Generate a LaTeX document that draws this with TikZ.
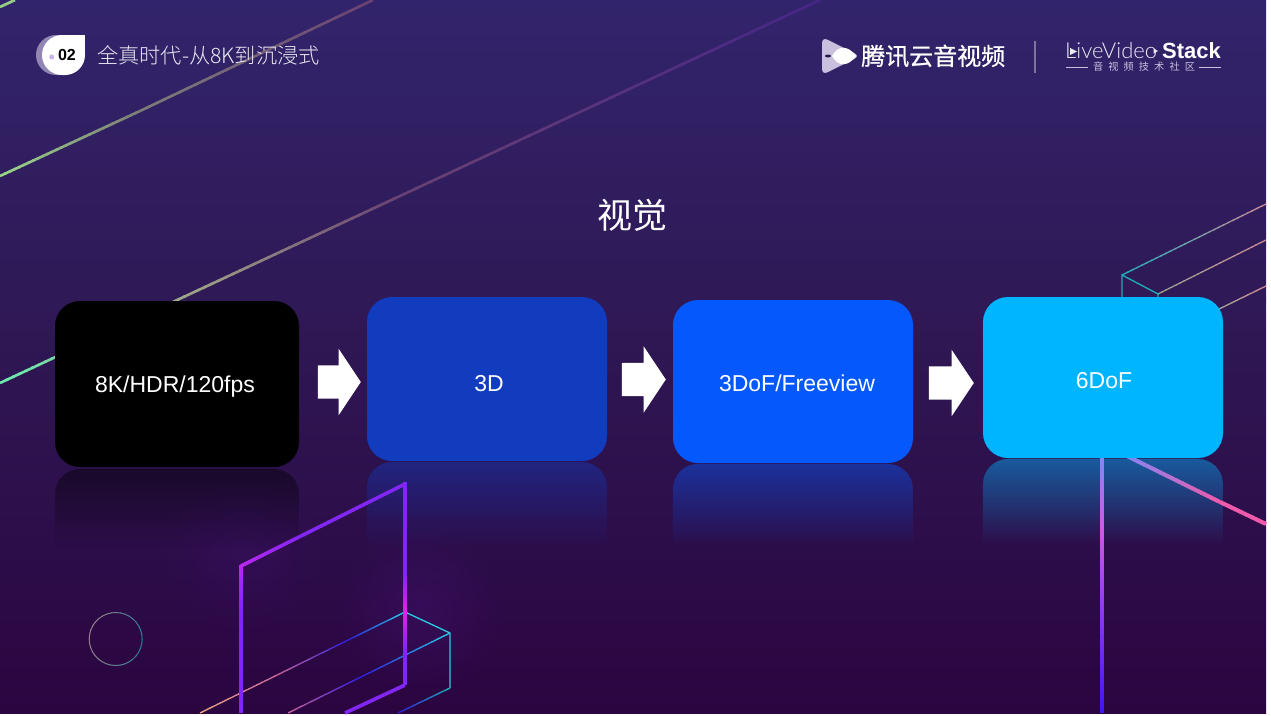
\documentclass[tikz,border=0pt]{standalone}
\usepackage{fontspec}
\setmainfont{Liberation Sans}
\newfontfamily\cjkfont{Noto Sans CJK SC}
\newfontfamily\cjklight{Noto Sans CJK SC Light}
\newfontfamily\cjkheavy[FakeBold=0.8]{Noto Sans CJK SC}
\newfontfamily\latinlight{Lato Light}
\usepackage{tikz}
\usetikzlibrary{calc}
\usetikzlibrary{positioning}
\usetikzlibrary{shapes.arrows}
\usetikzlibrary{fadings}

\definecolor{bgTop}{RGB}{50,36,108}
\definecolor{bgMid}{RGB}{47,25,86}
\definecolor{bgLow}{RGB}{43,5,64}
\definecolor{boxDark}{RGB}{18,60,190}
\definecolor{boxBlue}{RGB}{5,88,251}
\definecolor{boxSky}{RGB}{0,181,255}
\definecolor{lineGreen}{RGB}{155,215,135}
\definecolor{lineMint}{RGB}{105,235,175}
\definecolor{lineGrey}{RGB}{160,165,135}
\definecolor{lineFade}{RGB}{125,125,122}
\definecolor{lineDim}{RGB}{105,65,115}
\definecolor{lineDeep}{RGB}{70,38,135}
\definecolor{cubeTeal}{RGB}{30,175,185}
\definecolor{cubePink}{RGB}{205,135,150}
\definecolor{cubeOlive}{RGB}{150,165,145}
\definecolor{cubeCyan}{RGB}{40,205,225}
\definecolor{cubeBlue}{RGB}{45,30,225}
\definecolor{cubeRose}{RGB}{200,100,155}
\definecolor{cubePeach}{RGB}{235,165,130}
\definecolor{ringPink}{RGB}{165,125,135}
\definecolor{ringTeal}{RGB}{50,125,150}
\definecolor{paneViolet}{RGB}{130,38,245}
\definecolor{paneCorner}{RGB}{185,40,240}
\definecolor{paneMagenta}{RGB}{225,35,225}
\definecolor{rodLight}{RGB}{130,135,245}
\definecolor{rodPink}{RGB}{205,90,230}
\definecolor{rodBlue}{RGB}{65,20,245}
\definecolor{rayPink}{RGB}{240,90,170}
\definecolor{badgeBack}{RGB}{145,135,178}
\definecolor{badgeDot}{RGB}{200,180,232}
\definecolor{logoGrey}{RGB}{200,192,222}
\definecolor{softWhite}{RGB}{235,232,242}
\definecolor{ruleGrey}{RGB}{125,115,155}

\tikzfading[name=reflfade, top color=transparent!55, bottom color=transparent!100]
\tikzfading[name=glowfade, inner color=transparent!45, outer color=transparent!100]

\newcommand{\gradseg}[5]{%
	\foreach \k in {1,...,30}{
		\pgfmathsetmacro\ta{(\k-1)/30}
		\pgfmathsetmacro\tb{min(1,\k/30+0.01)}
		\pgfmathtruncatemacro\pct{100-100*(\k-0.5)/30}
		\draw[line width=#5, color=#3!\pct!#4] ($(#1)!\ta!(#2)$) -- ($(#1)!\tb!(#2)$);
	}
}
\newcommand{\refl}[5]{%
	\fill[#5, path fading=reflfade] (#1,#4) [rounded corners=25] -- (#1,#3) -- (#2,#3) [sharp corners] -- (#2,#4) -- cycle;
}

\tikzset{
	flowbox/.style={rounded corners=25, minimum width=#1, inner sep=0},
	flowtext/.style={text=white, font=\fontsize{23}{27}\selectfont, inner sep=0, anchor=base},
	blockarrow/.style={single arrow, fill=white, inner xsep=0, inner ysep=16.5, minimum height=#1, single arrow head extend=16.5, single arrow head indent=0, single arrow tip angle=112.6, anchor=tip},
}

\begin{document}
\begin{tikzpicture}[x=1pt, y=-1pt]
	\useasboundingbox (0,0) rectangle (1271,715);
	\shade[top color=bgTop, bottom color=bgMid] (0,0) rectangle (1266,300);
	\shade[top color=bgMid, bottom color=bgLow] (0,300) rectangle (1266,713);

	\fill[color=paneViolet, path fading=glowfade, opacity=.2] (420,610) circle[radius=85];
	\fill[color=paneViolet, path fading=glowfade, opacity=.12] (243,555) circle[radius=85];

	\refl{55}{299}{469}{548}{black}
	\refl{367}{607}{462}{548}{boxDark}
	\refl{673}{913}{464}{548}{boxBlue}
	\refl{983}{1223}{459}{545}{boxSky}

	\coordinate (lnA) at (0,176);
	\coordinate (lnB) at (140,111);
	\coordinate (lnC) at (373,0);
	\gradseg{lnA}{lnB}{lineGreen}{lineFade}{2.6}
	\gradseg{lnB}{lnC}{lineFade}{lineDim}{2.6}
	\coordinate (lnD) at (0,7);
	\coordinate (lnE) at (15,0);
	\gradseg{lnD}{lnE}{lineGreen}{lineGreen}{2.6}

	\coordinate (rayA) at (0,383);
	\coordinate (rayB) at (190,294);
	\coordinate (rayC) at (400,196);
	\coordinate (rayD) at (820,0);
	\gradseg{rayA}{rayB}{lineMint}{lineGrey}{2.6}
	\gradseg{rayB}{rayC}{lineGrey}{lineDim}{2.6}
	\gradseg{rayC}{rayD}{lineDim}{lineDeep}{2.6}

	\coordinate (cubeA) at (1122,275);
	\coordinate (cubeB) at (1158,294);
	\coordinate (cubeC) at (1266,204);
	\coordinate (cubeD) at (1266,240);
	\coordinate (cubeE) at (1215,311);
	\coordinate (cubeF) at (1266,286);
	\coordinate (cubeG) at (1122,300);
	\coordinate (cubeH) at (1158,300);
	\gradseg{cubeA}{cubeC}{cubeTeal}{cubePink}{1.3}
	\gradseg{cubeB}{cubeD}{cubeOlive}{cubePink}{1.3}
	\gradseg{cubeE}{cubeF}{cubeOlive}{cubePink}{1.3}
	\draw[cubeTeal, line width=1.3] (cubeG) -- (cubeA) -- (cubeB) -- (cubeH);

	\coordinate (rodA) at (1102,455);
	\coordinate (rodB) at (1102,530);
	\coordinate (rodC) at (1102,713);
	\gradseg{rodA}{rodB}{rodLight}{rodPink}{4.5}
	\gradseg{rodB}{rodC}{rodPink}{rodBlue}{4.5}
	\coordinate (skewA) at (1125,455);
	\coordinate (skewB) at (1220,502);
	\coordinate (skewC) at (1266,524);
	\gradseg{skewA}{skewB}{rodLight}{rayPink}{4}
	\gradseg{skewB}{skewC}{rayPink}{rayPink}{4}

	\coordinate (lowA) at (405,612);
	\coordinate (lowB) at (450,633);
	\coordinate (lowC) at (450,688);
	\coordinate (lowD) at (398,713);
	\coordinate (lowE) at (200,713);
	\coordinate (lowF) at (288,713);
	\coordinate (lowG) at ($(lowA)!.28!(lowE)$);
	\coordinate (lowH) at ($(lowA)!.62!(lowE)$);
	\coordinate (lowI) at ($(lowB)!.55!(lowF)$);
	\gradseg{lowA}{lowG}{cubeCyan}{cubeBlue}{1.3}
	\gradseg{lowG}{lowH}{cubeBlue}{cubeRose}{1.3}
	\gradseg{lowH}{lowE}{cubeRose}{cubePeach}{1.3}
	\gradseg{lowB}{lowI}{cubeCyan}{cubeBlue}{1.3}
	\gradseg{lowI}{lowF}{cubeBlue}{cubeRose}{1.3}
	\gradseg{lowC}{lowD}{cubeTeal}{cubeBlue}{1.3}
	\draw[cubeCyan, line width=1.3] (lowA) -- (lowB) -- (lowC);

	\coordinate (paneA) at (241,713);
	\coordinate (paneB) at (241,610);
	\coordinate (paneC) at (241,566);
	\coordinate (paneD) at (300,536.5);
	\coordinate (paneE) at (405,484);
	\coordinate (paneF) at (405,575);
	\coordinate (paneG) at (405,612);
	\coordinate (paneH) at (405,650);
	\coordinate (paneI) at (405,685);
	\coordinate (paneJ) at (345,713);
	\gradseg{paneA}{paneB}{paneViolet}{paneViolet}{3.5}
	\gradseg{paneB}{paneC}{paneViolet}{paneCorner}{3.5}
	\gradseg{paneC}{paneD}{paneCorner}{paneViolet}{3.5}
	\gradseg{paneD}{paneE}{paneViolet}{paneViolet}{3.5}
	\gradseg{paneE}{paneF}{paneViolet}{paneViolet}{3.5}
	\gradseg{paneF}{paneG}{paneViolet}{paneMagenta}{3.5}
	\gradseg{paneG}{paneH}{paneMagenta}{paneViolet}{3.5}
	\gradseg{paneH}{paneI}{paneViolet}{paneViolet}{3.5}
	\gradseg{paneI}{paneJ}{paneViolet}{paneViolet}{3.5}
	\fill[paneCorner] (239.25,564.5) rectangle (242.75,568);
	\fill[paneViolet] (403.25,482.4) rectangle (406.75,486);

	\foreach \a in {0,10,...,350}{
		\pgfmathtruncatemacro\pct{45+45*cos(\a-180)}
		\draw[line width=1, color=ringPink!\pct!ringTeal] ({115.7+26.5*cos(\a)},{639+26.5*sin(\a)}) -- ({115.7+26.5*cos(\a+11)},{639+26.5*sin(\a+11)});
	}

	\node[flowbox=244, minimum height=166, fill=black] (boxA) at (177,384) {};
	\node[flowbox=240, minimum height=164, fill=boxDark] (boxB) at (487,379) {};
	\node[flowbox=240, minimum height=163, fill=boxBlue] (boxC) at (793,381.5) {};
	\node[flowbox=240, minimum height=161, fill=boxSky] (boxD) at (1103,377.5) {};
	\node[flowtext] (textA) at (175,392) {8K/HDR/120fps};
	\node[flowtext] (textB) at (489,391) {3D};
	\node[flowtext] (textC) at (797,391) {3DoF/Freeview};
	\node[flowtext] (textD) at (1104,388) {6DoF};

	\node[blockarrow=43] (arrowA) at (361,382) {};
	\node[blockarrow=44] (arrowB) at (666,379.5) {};
	\node[blockarrow=45] (arrowC) at (974,383) {};

	\node[text=white, font=\cjkfont\fontsize{35}{41}\selectfont, inner sep=0] (title) at (632.5,215) {视觉};

	\fill[badgeBack, rounded corners=20] (36,35) rectangle (80,75);
	\fill[white, rounded corners=20] (42,35) rectangle (85,75);
	\fill[white] (65,35) rectangle (85,55);
	\fill[badgeDot] (51.7,57) circle[radius=2.5];
	\node[font=\bfseries\fontsize{16}{18}\selectfont, text=black, inner sep=0] (badge) at (67,55) {02};
	\node[text=softWhite, font=\cjklight\fontsize{21.2}{26}\selectfont, inner sep=0, anchor=west] (section) at (97,55) {全真时代-从8K到沉浸式};

	\fill[logoGrey, rounded corners=6] (822,37) -- (860,56) -- (822,75) -- cycle;
	\fill[white] (832,56) .. controls (838,45) and (848,45) .. (856,56) .. controls (848,67) and (838,67) .. (832,56) -- cycle;
	\fill[bgTop!70!black] (828,56) ellipse[x radius=3, y radius=1.5];
	\node[text=white, font=\cjkheavy\fontsize{24}{28}\selectfont, inner sep=0, anchor=west] (tencent) at (861,56) {腾讯云音视频};
	\draw[ruleGrey, line width=1.5] (1035,41) -- (1035,73);

	\node[text=softWhite, font=\latinlight\fontsize{22}{26}\selectfont, inner sep=0, anchor=base west] (live) at (1065,58) {LiveVideo};
	\node[text=white, font=\bfseries\fontsize{22}{26}\selectfont, inner sep=0, anchor=base east] (stack) at (1221,58) {Stack};
	\fill[softWhite] (1070,48) -- (1077,51.5) -- (1070,55) -- cycle;
	\fill[softWhite] (1153.5,48.5) -- (1158,51) -- (1153.5,53.5) -- cycle;
	\node[text=logoGrey, font=\cjkfont\fontsize{10.2}{12}\selectfont, inner sep=0] (community) at (1144,67) {音\,\,\,视\,\,\,频\,\,\,技\,\,\,术\,\,\,社\,\,\,区};
	\coordinate (ruleA) at (1066,67);
	\coordinate (ruleB) at (1088,67);
	\coordinate (ruleC) at (1199,67);
	\coordinate (ruleD) at (1221,67);
	\draw[logoGrey, line width=.7] (ruleA) -- (ruleB);
	\draw[logoGrey, line width=.7] (ruleC) -- (ruleD);
\end{tikzpicture}
\end{document}
